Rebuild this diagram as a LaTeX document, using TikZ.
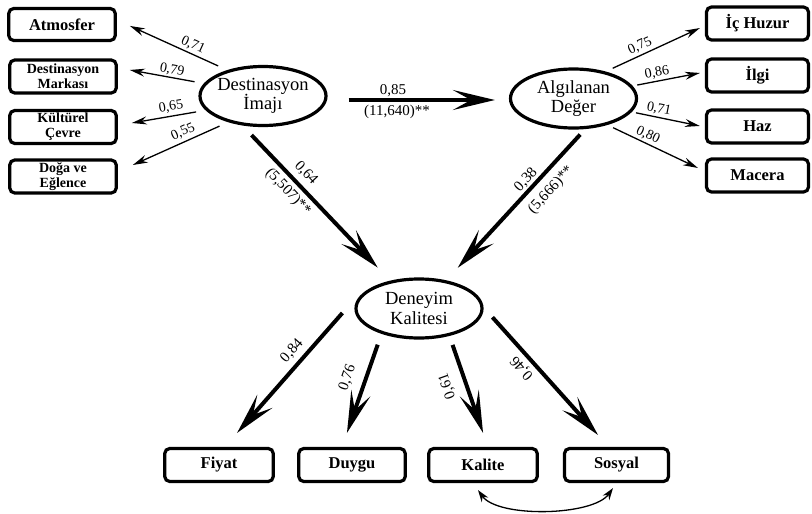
\documentclass[tikz,border=0pt]{standalone}
\usepackage{fontspec}
\setmainfont{Liberation Serif}
\usetikzlibrary{arrows.meta,shapes.geometric}
\begin{document}
\begin{tikzpicture}[x=1pt,y=-1pt,
 box/.style={draw, line width=3.2pt, rounded corners=5pt, align=center, inner sep=0pt,
   minimum width=106.5pt, minimum height=33pt, font=\bfseries\fontsize{16.5}{18}\selectfont},
 sbox/.style={box, font=\bfseries\fontsize{14}{15}\selectfont},
 lat/.style={draw, ellipse, line width=3.2pt, align=center, inner xsep=-2pt, inner ysep=0pt,
   font=\fontsize{18.5}{19.5}\selectfont, minimum width=126pt, minimum height=59pt},
 thinarr/.style={line width=1.3pt, -{Stealth[length=15pt,width=8pt,inset=5pt]}},
 thickarr/.style={line width=4pt, -{Stealth[length=42pt,width=20pt,inset=18pt]}},
 lbl/.style={font=\fontsize{14}{14}\selectfont, inner sep=0pt},
 tlbl/.style={font=\fontsize{15}{15}\selectfont, inner sep=0pt},
]
\useasboundingbox (0,0) rectangle (812,514);

% latent variables
\node[lat] (dest) at (263,96) {Destinasyon\\İmajı};
\node[lat] (alg) at (573.5,98.5) {Algılanan\\Değer};
\node[lat] (den) at (419,308.5) {Deneyim\\Kalitesi};

% left boxes
\node[box, minimum height=32pt] (atm) at (62,24.5) {Atmosfer};
\node[sbox] (mark) at (63,76.5) {Destinasyon\\Markası};
\node[sbox] (kult) at (63,127) {Kültürel\\Çevre};
\node[sbox] (doga) at (63,176.5) {Doğa ve\\Eğlence};

% right boxes
\node[box, minimum width=102pt] (ic) at (757.5,23.5) {İç Huzur};
\node[box, minimum width=102pt] (ilgi) at (757.5,75.5) {İlgi};
\node[box, minimum width=102pt] (haz) at (757.5,126.5) {Haz};
\node[box, minimum width=102pt] (mac) at (757.5,175.5) {Macera};

% bottom boxes
\node[box, minimum width=108.5pt] (fiy) at (219,465) {Fiyat};
\node[box, minimum width=106.5pt] (duy) at (352,465) {Duygu};
\node[box, minimum width=108.5pt] (kal) at (483,465) {Kalite};
\node[box, minimum width=104pt] (sos) at (616.5,465) {Sosyal};

% thin arrows left
\draw[thinarr, shorten <=10pt, shorten >=14.3pt] (dest.144) -- ([yshift=4.5pt]atm.east);
\draw[thinarr, shorten <=9.5pt, shorten >=12.2pt] (dest.168) -- ([yshift=8.7pt]mark.east);
\draw[thinarr, shorten <=9.7pt, shorten >=14.2pt] (dest.194) -- ([yshift=1.6pt]kult.east);
\draw[thinarr, shorten <=9.5pt, shorten >=16.4pt] (dest.217) -- ([yshift=4.8pt]doga.east);

% thin arrows right
\draw[thinarr, shorten <=7.8pt, shorten >=5.5pt] (alg.40) -- ([yshift=-2.2pt]ic.west);
\draw[thinarr, shorten <=4.7pt, shorten >=5.1pt] (alg.12) -- ([yshift=3.5pt]ilgi.west);
\draw[thinarr, shorten <=4.3pt, shorten >=5.1pt] (alg.-13) -- ([yshift=-0.5pt]haz.west);
\draw[thinarr, shorten <=6.3pt, shorten >=7.7pt] (alg.-38) -- ([yshift=4.2pt]mac.west);

% thick arrows
\draw[thickarr, shorten <=21pt, shorten >=14pt] ([yshift=-4pt]dest.east) -- ([yshift=-1.5pt]alg.west);
\draw[thickarr, shorten <=13.3pt, shorten >=18pt] (dest.235.6) -- (den.136.2);
\draw[thickarr, shorten <=7.5pt, shorten >=17pt] (alg.-69.5) -- (den.46.6);
\draw[thickarr, shorten >=18.6pt] ([xshift=-12pt,yshift=-4.5pt]den.west) -- ([xshift=5.8pt]fiy.north);
\draw[thickarr, shorten <=11.5pt, shorten >=14.8pt] (den.214) -- ([xshift=-9.9pt]duy.north);
\draw[thickarr, shorten <=9.5pt, shorten >=14.8pt] (den.-42) -- ([xshift=4.9pt]kal.north);
\draw[thickarr, shorten <=13.3pt, shorten >=16pt] (den.1) -- ([xshift=-7.8pt]sos.north);

% covariance
\draw[line width=1.3pt, {Stealth[length=12pt,width=8pt,inset=4pt]}-{Stealth[length=12pt,width=8pt,inset=4pt]}]
  ([xshift=-5pt,yshift=-7pt]kal.south) .. controls +(20,28) and +(-20,28) .. ([xshift=-3.5pt,yshift=-5pt]sos.south);

% labels
\node[lbl, rotate=-24.4] (l1) at (193,45) {0,71};
\node[lbl, rotate=-10.5] (l2) at (172,70) {0,79};
\node[lbl, rotate=9.6] (l3) at (171,107) {0,65};
\node[lbl, rotate=24.1] (l4) at (183,132) {0,55};
\node[lbl, rotate=24.7] (l5) at (640,46) {0,75};
\node[lbl, rotate=10.8] (l6) at (657,73) {0,86};
\node[lbl, rotate=-11.3] (l7) at (659,109) {0,71};
\node[lbl, rotate=-25.2] (l8) at (648,135) {0,80};
\node[tlbl] (l9) at (393,91) {0,85};
\node[tlbl] (l10) at (397,112) {(11,640)**};
\node[tlbl, rotate=-46.5] (l11) at (306,173) {0,64};
\node[tlbl, rotate=-46.5] (l12) at (288,192) {(5,507)**};
\node[tlbl, rotate=47.2] (l13) at (526,180) {0,38};
\node[tlbl, rotate=47.2] (l14) at (551,190) {(5,666)**};
\node[tlbl, rotate=48.8] (l15) at (292,351) {0,84};
\node[tlbl, rotate=70.6] (l16) at (347.5,377.5) {0,76};
\node[tlbl, rotate=109.4] (l17) at (447.5,386) {0,61};
\node[tlbl, rotate=131.7] (l18) at (522,368) {0,46};
\end{tikzpicture}
\end{document}
